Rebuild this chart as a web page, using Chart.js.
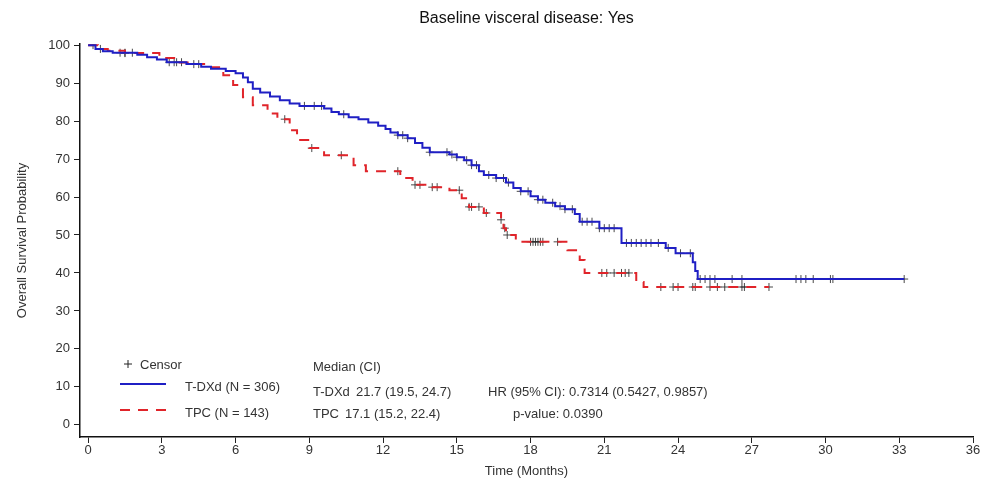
<!DOCTYPE html>
<html>
<head>
<meta charset="utf-8">
<script src="https://cdn.jsdelivr.net/npm/chart.js@4"></script>
<style>
  html, body { margin: 0; padding: 0; background: #fff; }
  #wrap { width: 982px; height: 483px; }
</style>
</head>
<body>
<div id="wrap"><canvas id="km" width="982" height="483"></canvas></div>
<script>
// T-DXd (blue) Kaplan-Meier steps: time in months, survival %
const dxdTimes = [0, 0.3, 0.6, 1.0, 2.0, 2.4, 2.8, 3.2, 4.0, 4.6, 5.0, 5.6, 6.0, 6.3, 6.5, 6.7, 7.0, 7.4, 7.8, 8.2, 8.6,
  9.6, 9.9, 10.2, 10.6, 11.0, 11.4, 11.8, 12.1, 12.3, 12.6, 13.0, 13.3, 13.6, 13.9, 14.7, 15.0, 15.3, 15.6, 15.9, 16.1,
  16.6, 17.0, 17.3, 17.6, 18.0, 18.3, 18.6, 19.0, 19.4, 19.8, 20.0, 20.8, 21.7, 23.5, 23.9, 24.6, 24.7, 24.8, 33.2];
const dxdSurv = [100, 99, 98.4, 98, 97.5, 96.8, 96.2, 95.5, 95, 94.3, 93.8, 93.2, 92.6, 91.5, 90.2, 88.5, 87.5, 86.5, 85.5, 84.6, 84,
  83.3, 82.4, 81.8, 81, 80.5, 79.6, 78.8, 77.9, 77, 76.3, 75.5, 74.2, 73, 71.8, 71.2, 70.5, 69.7, 68.4, 66.8, 65.8,
  65, 63.8, 62.4, 61.5, 60.2, 59.3, 58.5, 57.6, 56.8, 55.5, 53.5, 51.8, 47.9, 46.6, 45.2, 42.8, 40.5, 38.4, 38.4];

// TPC (red) Kaplan-Meier steps
const tpcTimes = [0, 0.4, 0.8, 1.5, 2.9, 3.5, 4.3, 4.9, 5.5, 5.9, 6.3, 6.7, 7.3, 7.7, 8.2, 8.5, 9.0, 9.6, 10.8, 11.3,
  12.7, 13.2, 14.0, 14.7, 15.2, 15.5, 16.1, 16.8, 16.9, 17.0, 17.4, 19.5, 20.0, 20.2, 22.3, 22.6, 27.7];
const tpcSurv = [100, 99, 98.5, 97.9, 96.6, 95.4, 95, 94.2, 92.1, 89.5, 86.3, 84.2, 82, 80.5, 77.6, 75, 72.9, 71, 68.4, 66.8,
  65, 63.2, 62.6, 61.8, 59.7, 57.4, 55.8, 54, 51.8, 50, 48.2, 46, 43.4, 40, 37.6, 36.3, 36.3];

// censoring times
const dxdCensor = [0.5, 1.3, 1.5, 1.8, 3.3, 3.5, 3.6, 3.8, 4.3, 8.8, 9.2, 9.5, 10.4, 12.6, 12.8, 13.0, 13.9, 14.6, 14.8,
  15.0, 15.4, 15.6, 15.8, 16.3, 16.6, 16.9, 17.1, 17.6, 17.9, 18.3, 18.5, 18.9, 19.2, 19.4, 19.7, 20.1, 20.3, 20.5, 20.8,
  21.0, 21.2, 21.4, 21.9, 22.1, 22.3, 22.5, 22.7, 22.9, 23.2, 23.6, 24.1, 24.5, 24.9, 25.1, 25.3, 25.5, 26.2, 26.6,
  28.8, 29.0, 29.2, 29.5, 30.2, 30.3, 33.2];
const tpcCensor = [0.2, 1.5, 4.5, 8.0, 9.1, 10.3, 12.6, 13.3, 13.5, 14.0, 14.2, 15.1, 15.5, 15.6, 15.9, 16.2, 16.8, 16.95,
  17.05, 18.0, 18.1, 18.2, 18.3, 18.4, 18.5, 19.1, 20.9, 21.1, 21.4, 21.7, 21.85, 22.0, 23.3, 23.8, 24.0, 24.6, 24.7,
  25.3, 25.6, 25.9, 26.6, 26.7, 27.7];

const xTicks = [0, 3, 6, 9, 12, 15, 18, 21, 24, 27, 30, 33, 36];
const yTicks = [0, 10, 20, 30, 40, 50, 60, 70, 80, 90, 100];

const FONT = '"Liberation Sans", Arial, sans-serif';
const BLUE = '#1f1fc4';
const RED = '#e0242a';
const TXT = '#333';

function toPoints(times, surv) {
    return times.map((t, i) => ({ x: t, y: surv[i] }));
}

// survival value of a step curve at time t
function survAt(times, surv, t) {
    let s = surv[0];
    for (let i = 0; i < times.length; i++) {
        if (times[i] <= t) s = surv[i];
    }
    return s;
}

function censorPoints(cens, times, surv) {
    return cens.map(t => ({ x: t, y: survAt(times, surv, t) }));
}

// title plus the legend / statistics block below the curves
const annotate = {
    id: 'annotate',
    afterDraw(chart) {
        const ctx = chart.ctx;
        const area = chart.chartArea;
        ctx.save();
        ctx.fillStyle = '#111';
        ctx.font = '16px ' + FONT;
        ctx.textAlign = 'center';
        ctx.textBaseline = 'middle';
        ctx.fillText('Baseline visceral disease: Yes', (area.left + area.right) / 2, 19);

        ctx.textAlign = 'left';
        ctx.fillStyle = TXT;
        ctx.font = '13px ' + FONT;

        // censor mark
        ctx.strokeStyle = '#222';
        ctx.lineWidth = 1;
        ctx.beginPath();
        ctx.moveTo(124, 364); ctx.lineTo(132, 364);
        ctx.moveTo(128, 360); ctx.lineTo(128, 368);
        ctx.stroke();
        ctx.fillText('Censor', 140, 365);

        // line samples
        ctx.lineWidth = 2;
        ctx.strokeStyle = BLUE;
        ctx.beginPath(); ctx.moveTo(120, 384); ctx.lineTo(166, 384); ctx.stroke();
        ctx.strokeStyle = RED;
        ctx.setLineDash([10, 8]);
        ctx.beginPath(); ctx.moveTo(120, 410); ctx.lineTo(166, 410); ctx.stroke();
        ctx.setLineDash([]);

        ctx.fillText('T-DXd (N = 306)', 185, 387);
        ctx.fillText('TPC (N = 143)', 185, 413);
        ctx.fillText('Median (CI)', 313, 367);
        ctx.fillText('T-DXd', 313, 392);
        ctx.fillText('21.7 (19.5, 24.7)', 356, 392);
        ctx.fillText('TPC', 313, 414);
        ctx.fillText('17.1 (15.2, 22.4)', 345, 414);
        ctx.fillText('HR (95% CI): 0.7314 (0.5427, 0.9857)', 488, 392);
        ctx.fillText('p-value: 0.0390', 513, 414);
        ctx.restore();
    }
};

const axisTicks = {
    color: TXT,
    font: { family: FONT, size: 13 }
};

new Chart(document.getElementById('km').getContext('2d'), {
    type: 'scatter',
    data: {
        datasets: [
            {
                label: 'T-DXd',
                type: 'line',
                data: toPoints(dxdTimes, dxdSurv),
                stepped: 'before',
                borderColor: BLUE,
                borderWidth: 2,
                pointRadius: 0,
                fill: false
            },
            {
                label: 'TPC',
                type: 'line',
                data: toPoints(tpcTimes, tpcSurv),
                stepped: 'before',
                borderColor: RED,
                borderWidth: 2,
                borderDash: [10, 8],
                pointRadius: 0,
                fill: false
            },
            {
                label: 'Censor T-DXd',
                data: censorPoints(dxdCensor, dxdTimes, dxdSurv),
                pointStyle: 'cross',
                pointRadius: 4,
                borderColor: 'rgba(40,40,40,0.85)',
                borderWidth: 1
            },
            {
                label: 'Censor TPC',
                data: censorPoints(tpcCensor, tpcTimes, tpcSurv),
                pointStyle: 'cross',
                pointRadius: 4,
                borderColor: 'rgba(40,40,40,0.85)',
                borderWidth: 1
            }
        ]
    },
    options: {
        responsive: false,
        animation: false,
        layout: { padding: { top: 44, right: 9, left: 0, bottom: 0 } },
        plugins: {
            legend: { display: false },
            tooltip: { enabled: false }
        },
        scales: {
            x: {
                type: 'linear',
                min: -0.33,
                max: 36,
                afterBuildTicks: axis => { axis.ticks = xTicks.map(v => ({ value: v })); },
                afterFit: axis => { axis.height = 46; },
                ticks: { ...axisTicks, padding: 0, maxRotation: 0 },
                grid: { drawOnChartArea: false, color: '#222', tickLength: 6, lineWidth: 1 },
                border: { color: '#111', width: 1.5 },
                title: {
                    display: true,
                    text: 'Time (Months)',
                    color: TXT,
                    font: { family: FONT, size: 13 },
                    padding: { top: 0, bottom: 4 }
                }
            },
            y: {
                min: -3.2,
                max: 100.3,
                afterBuildTicks: axis => { axis.ticks = yTicks.map(v => ({ value: v })); },
                afterFit: axis => { axis.width = 80; },
                ticks: { ...axisTicks, padding: 4 },
                grid: { drawOnChartArea: false, color: '#222', tickLength: 6, lineWidth: 1 },
                border: { color: '#111', width: 1.5 },
                title: {
                    display: true,
                    text: 'Overall Survival Probability',
                    color: TXT,
                    font: { family: FONT, size: 13 },
                    padding: { top: 15, bottom: 4 }
                }
            }
        }
    },
    plugins: [annotate]
});
</script>
</body>
</html>
